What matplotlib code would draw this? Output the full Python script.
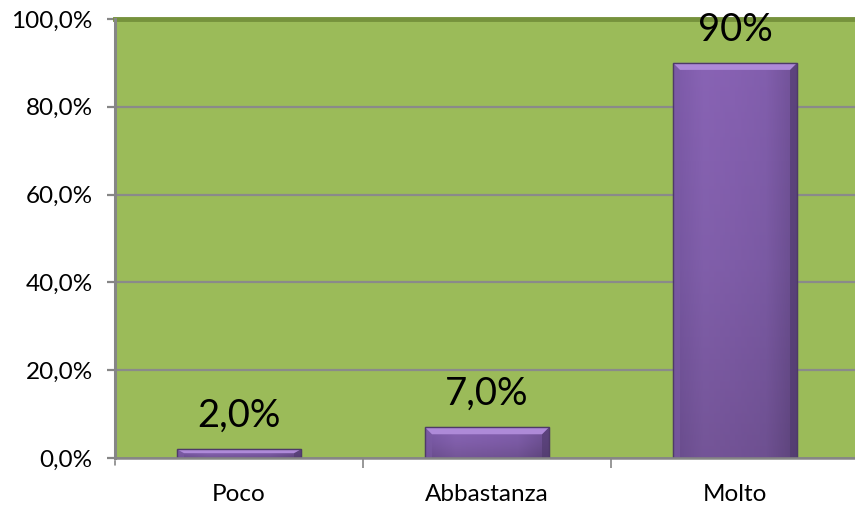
import matplotlib
matplotlib.use("Agg")
import matplotlib.pyplot as plt
import numpy as np
from matplotlib.patches import Polygon, Rectangle
from matplotlib.colors import LinearSegmentedColormap

categories = ["Poco", "Abbastanza", "Molto"]
values = [2.0, 7.0, 90.0]
labels = ["2,0%", "7,0%", "90%"]
yticks = [0, 20, 40, 60, 80, 100]
ytick_labels = ["0,0%", "20,0%", "40,0%", "60,0%", "80,0%", "100,0%"]

plt.rcParams['font.family'] = ['Lato', 'DejaVu Sans']

W, H = 855, 505
fig = plt.figure(figsize=(W / 100, H / 100), dpi=100)
ax = fig.add_axes([115 / W, 1 - 458 / H, (859 - 115) / W, (458 - 19) / H])
ax.set_facecolor("#9BBB59")
ax.set_xlim(-0.5, 2.5)
ax.set_ylim(0, 100)

# gridlines
for t in yticks[1:]:
    ax.axhline(t, color="#8A8A8A", lw=1.6, zorder=1)

x = np.arange(len(categories))
bars = ax.bar(x, values, width=0.5, color="#7E5FA8", zorder=3,
              edgecolor="#4E3A68", linewidth=0.8)

# pixel to data conversion
px_x = 3.0 / (859 - 115)
px_y = 100.0 / (458 - 19)

body_cmap = LinearSegmentedColormap.from_list("b", ["#8862B4", "#7A5AA2", "#634880"])
side_cmap = LinearSegmentedColormap.from_list("s", ["#6E509A", "#8A66B6", "#8560B0", "#7C5BA6", "#533C72"])
for b in bars:
    x0, w, h = b.get_x(), b.get_width(), b.get_height()
    grad = np.linspace(0, 1, 256).reshape(-1, 1)
    im = ax.imshow(grad, extent=(x0, x0 + w, 0, h), origin="upper", aspect="auto",
                   cmap=body_cmap, zorder=3.1)
    im.set_clip_path(b)
    hg = np.linspace(0, 1, 256).reshape(1, -1)
    im2 = ax.imshow(hg, extent=(x0, x0 + w, 0, h), aspect="auto",
                    cmap=side_cmap, zorder=3.2, alpha=0.45)
    im2.set_clip_path(b)
    bw = 7 * px_x
    bh = min(7 * px_y, h * 0.45)
    top = Polygon([(x0, h), (x0 + w, h), (x0 + w - bw, h - bh), (x0 + bw, h - bh)],
                  closed=True, facecolor="#AE8AD8", edgecolor="none", zorder=3.4)
    ax.add_patch(top)
    left = Polygon([(x0, h), (x0 + bw, h - bh), (x0 + bw, 0), (x0, 0)],
                   closed=True, facecolor="#7B5CA4", edgecolor="none", zorder=3.3, alpha=0.6)
    ax.add_patch(left)
    right = Polygon([(x0 + w, h), (x0 + w - bw, h - bh), (x0 + w - bw, 0), (x0 + w, 0)],
                    closed=True, facecolor="#4F3A6C", edgecolor="none", zorder=3.3, alpha=0.6)
    ax.add_patch(right)
    edge = Rectangle((x0, 0), w, h, facecolor="none", edgecolor="#4E3A68", lw=1.0, zorder=3.5)
    ax.add_patch(edge)

for xi, v, lab in zip(x, values, labels):
    ax.annotate(lab, (xi, v), xytext=(0, 24), textcoords="offset points",
                ha="center", va="center", fontsize=27.5, color="black", zorder=6,
                annotation_clip=False)

for s in ["top", "right"]:
    ax.spines[s].set_visible(False)
ax.spines["left"].set_color("#868686")
ax.spines["left"].set_linewidth(2.2)
ax.spines["bottom"].set_color("#868686")
ax.spines["bottom"].set_linewidth(1.8)
ax.axhline(100, color="#76923C", lw=3.5, zorder=2, clip_on=False)
ax.axhline(0, color="#868686", lw=1.8, zorder=4)

ax.set_yticks(yticks)
ax.set_yticklabels(ytick_labels, fontsize=17.5)
ax.tick_params(axis="y", length=6, width=1.6, color="#868686", pad=10)

ax.set_xticks(x)
ax.set_xticklabels(categories, fontsize=17.5)
ax.tick_params(axis="x", which="major", length=0, pad=19)
ax.set_xticks([0.5, 1.5], minor=True)
ax.tick_params(axis="x", which="minor", length=7, width=1.2, color="#868686")
ax.annotate("", xy=(-0.5, 0), xytext=(0, -7), textcoords="offset points", xycoords="data",
            arrowprops=dict(arrowstyle="-", color="#868686", lw=1.2))

fig.savefig("out.png", dpi=100, facecolor="white")
